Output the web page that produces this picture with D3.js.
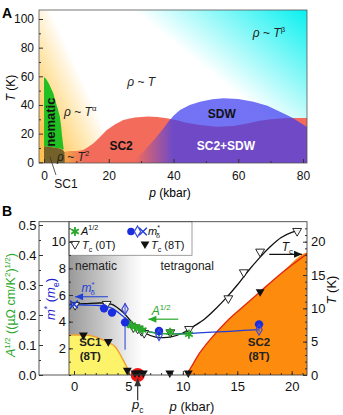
<!DOCTYPE html>
<html><head><meta charset="utf-8">
<script src="https://cdn.jsdelivr.net/npm/d3@7"></script>
<style>body{margin:0;background:#fff}svg{display:block}text{font-family:'Liberation Sans',Arial,Helvetica,sans-serif}</style>
</head><body><svg id="c" width="343" height="415"></svg>
<script>
// ---------------- Panel A data (p in kbar, T in K) ----------------
const aXTicks=[0,20,40,60,80];
const aYTicks=[0,20,40,60,80,100];
const nematicRegion=[[0,11],[0,59.5],[0.7,58],[1.5,55],[2.3,51],[2.9,48],[3.4,43.5],[4.3,37],[4.9,31.8],[5.3,25],[5.5,20],[5.8,14],[6.1,9],[4.5,9.8],[3,10.4],[1.5,10.8]];
const sc1RegionA=[[0,-0.7],[0,11],[1.5,10.8],[3,10.4],[4.5,9.8],[5.8,8.8],[6.3,7],[6.4,3],[6.4,-0.7]];
const sc2RegionA=[[6.3,-0.7],[6.3,7.4],[8,7.8],[10,7.9],[12.1,8.6],[13.5,10.5],[15.2,13.2],[17,17],[19.4,22.5],[22,26.6],[24.5,29.5],[28,31.3],[32.2,32],[35,31.6],[37.9,30.7],[41,29.3],[44,27.6],[48.2,26],[53.3,24.8],[58.5,25.3],[62,26.8],[66.7,29],[70,30],[74,30.7],[78,31],[81.3,31],[81.3,-0.7]];
const sdwRegion=[[27,-0.7],[31,8],[34.5,17],[37,24],[38.4,28.3],[40,32.5],[42,36.5],[45,40],[48.2,42.3],[52,44],[55.4,44.7],[60,44.1],[64.7,42.3],[69,39.5],[72.9,35.3],[75,33],[77,30.7],[79,27.8],[81.3,24.5],[81.3,-0.7]];
const cyanFrom=[60,47], cyanTo=[81.2,106.3];
const yellowFrom=[11.9,57.4], yellowTo=[-4.9,40];

// ---------------- Panel B data ----------------
const bXTicks=[0,5,10,15,20];
const bTTicks=[0,5,10,15,20];
const bMTicks=[2,4,6,8,10];
const bATicks=[0,0.1,0.2,0.3,0.4,0.5];
const tc0T=[[0.1,10.5],[3.0,10.65],[5.45,7.15],[5.85,6.95],[6.2,6.6],[6.45,6.3],[8.85,6.4],[10.57,6.9],[14.18,11.5],[15.6,15.4],[17.1,18.5],[20.5,21.6]];
const tc8T=[[0.86,6.0],[3.15,5.0],[4.9,0.7],[5.6,0.3],[5.97,0.3],[6.37,0.3],[8.8,0.3],[10.5,0.3],[17.1,12.5]];
const tcFit=[[-0.45,10.6],[1,10.7],[2.5,10.8],[3.5,10.6],[4.5,9.4],[5.5,7.6],[6.5,6.3],[7.5,5.7],[8.2,5.6],[9,5.75],[10,6.3],[11,7.3],[12,8.4],[13,9.9],[14,11.6],[15,13.5],[16,15.6],[17,17.5],[18,19.2],[19,20.6],[20,21.4],[20.7,21.7]];
const mCircles=[[2.76,5.0,0.3],[3.49,4.68,0.25],[4.69,3.95,2.05],[7.81,3.3,0.2],[17.0,3.8,0.2]];
const mDiamonds=[[4.69,4.95,0.45],[7.81,3.0,0.2],[17.0,3.4,0.15]];
const mCrosses=[[0.0,5.3]];
const mFit=[[-0.45,5.25],[1,5.25],[2.5,5.2],[3.5,5.0],[4.5,4.4],[5.5,3.75],[6.5,3.35],[7.5,3.15],[8.5,3.1],[10,3.1],[17,3.4]];
const aStars=[[4.93,0.172],[5.3,0.165],[5.6,0.16],[6.0,0.155],[6.3,0.15],[7.8,0.144],[8.82,0.143],[10.56,0.136]];
const aFit=[[4.85,0.172],[5.5,0.163],[6.2,0.152],[7,0.143],[8,0.139],[9,0.137],[10.6,0.136]];
const sc1RegionB=[[-0.6,6.0],[1,6.0],[2,5.7],[3,5.0],[3.8,4.2],[4.5,2.3],[4.9,1.0],[5.15,0]];
const sc2RegionB=[[10.3,0],[10.7,1.0],[11.5,3.2],[12.5,5.3],[14,8.0],[15.5,10.2],[17.1,12.5],[19,15.2],[21.6,18.4]];
const pcValue=5.85;

const svg=d3.select('#c');
const defs=svg.append('defs');
const FONT="'Liberation Sans',Arial,Helvetica,sans-serif";

function rich(sel,x,y,parts,fs,attrs){
  const t=sel.append('text').attr('x',x).attr('y',y).attr('font-size',fs);
  for(const k in (attrs||{})) t.attr(k,attrs[k]);
  let shift=0;
  parts.forEach(p=>{
    const ts=t.append('tspan').text(p.t);
    const target=p.sup?-fs*0.42:p.sub?fs*0.28:0;
    if(target!==shift){ts.attr('dy',target-shift);shift=target;}
    if(p.dx) ts.attr('dx',p.dx);
    if(p.sup||p.sub) ts.attr('font-size',fs*0.65);
    if(p.i) ts.attr('font-style','italic');
    if(p.b) ts.attr('font-weight','bold');
  });
  return t;
}
function styleAxis(g,fs){g.select('.domain').remove();g.selectAll('text').attr('font-size',fs).attr('font-family',FONT).attr('fill','#111');g.selectAll('line').attr('stroke','#333');}

// ================= PANEL A =================
const xA=d3.scaleLinear().domain([0,80]).range([44,303]);
const yA=d3.scaleLinear().domain([0,100]).range([162.3,19]);
const AL=39,AR=307,AT=10,AB=163;
defs.append('clipPath').attr('id','clipA').append('rect').attr('x',AL).attr('y',AT).attr('width',AR-AL).attr('height',AB-AT);
function lg(id,from,to,stops){const g=defs.append('linearGradient').attr('id',id).attr('gradientUnits','userSpaceOnUse')
  .attr('x1',from[0]).attr('y1',from[1]).attr('x2',to[0]).attr('y2',to[1]);
  stops.forEach(s=>g.append('stop').attr('offset',s[0]).attr('stop-color',s[1]).attr('stop-opacity',s[2]));}
lg('gCyan',[xA(cyanFrom[0]),yA(cyanFrom[1])],[xA(cyanTo[0]),yA(cyanTo[1])],[[0,'#08f0f0',0],[0.45,'#08f0f0',0.45],[1,'#08f0f0',1]]);
lg('gYel',[xA(yellowFrom[0]),yA(yellowFrom[1])],[xA(yellowTo[0]),yA(yellowTo[1])],[[0,'#ffc040',0],[0.4,'#ffc848',0.42],[1,'#ffb838',0.88]]);
lg('gSc2',[xA(7),0],[xA(12.5),0],[[0,'#f4a04a',1],[1,'#f26b5b',1]]);
lg('gSdw',[xA(28),0],[xA(40),0],[[0,'#3c3cf0',0],[1,'#3c3cf0',0.72]]);

const gA=svg.append('g').attr('clip-path','url(#clipA)');
gA.append('rect').attr('x',AL).attr('y',AT).attr('width',AR-AL).attr('height',AB-AT).attr('fill','#fff');
gA.append('rect').attr('x',AL).attr('y',AT).attr('width',AR-AL).attr('height',AB-AT).attr('fill','url(#gCyan)');
gA.append('rect').attr('x',AL).attr('y',AT).attr('width',AR-AL).attr('height',AB-AT).attr('fill','url(#gYel)');
const lineA=d3.line().x(d=>xA(d[0])).y(d=>yA(d[1]));
gA.append('path').attr('d',lineA(sc2RegionA)+'Z').attr('fill','url(#gSc2)');
gA.append('path').attr('d',lineA(sdwRegion)+'Z').attr('fill','url(#gSdw)');
gA.append('path').attr('d',lineA(nematicRegion)+'Z').attr('fill','#22c022');
gA.append('path').attr('d',lineA(sc1RegionA)+'Z').attr('fill','#74612a');

// frame A
svg.append('rect').attr('x',AL).attr('y',AT).attr('width',AR-AL).attr('height',AB-AT).attr('fill','none').attr('stroke','#555').attr('stroke-width',0.8);
const axAx=svg.append('g').attr('transform',`translate(0,${AB})`).call(d3.axisBottom(xA).tickValues(aXTicks).tickSize(-4).tickPadding(8));
styleAxis(axAx,12);
const axAxm=svg.append('g').attr('transform',`translate(0,${AB})`).call(d3.axisBottom(xA).tickValues(d3.range(10,81,20)).tickSize(-2).tickFormat(''));
styleAxis(axAxm,12);
const axAy=svg.append('g').attr('transform',`translate(${AL},0)`).call(d3.axisLeft(yA).tickValues(aYTicks).tickSize(-4).tickPadding(5));
styleAxis(axAy,12);
const axAym=svg.append('g').attr('transform',`translate(${AL},0)`).call(d3.axisLeft(yA).tickValues(d3.range(10,101,20)).tickSize(-2).tickFormat(''));
styleAxis(axAym,12);

// texts A
svg.append('text').attr('x',2).attr('y',18).attr('font-size',14).attr('font-weight','bold').text('A');
rich(svg,170,197,[{t:'p',i:true},{t:' (kbar)'}],12,{'text-anchor':'middle'});
rich(svg,0,0,[{t:'T',i:true},{t:' (K)'}],12,{'text-anchor':'middle',transform:'translate(15,88) rotate(-90)'});
rich(svg,xA(69.5),yA(87.6),[{t:'ρ',i:true},{t:' ~ '},{t:'T',i:true},{t:'β',sup:true}],12,{'text-anchor':'middle','fill':'#222'});
rich(svg,xA(30),yA(53.3),[{t:'ρ',i:true},{t:' ~ '},{t:'T',i:true}],12,{'text-anchor':'middle','fill':'#222'});
rich(svg,xA(11.2),yA(32.3),[{t:'ρ',i:true},{t:' ~ '},{t:'T',i:true},{t:'α',sup:true}],12,{'text-anchor':'middle','fill':'#222'});
rich(svg,xA(9),yA(1),[{t:'ρ',i:true},{t:' ~ '},{t:'T',i:true},{t:'2',sup:true}],12,{'text-anchor':'middle','fill':'#222'});
svg.append('text').attr('x',xA(54.9)).attr('y',yA(31)).attr('text-anchor','middle').attr('font-size',12).attr('font-weight','bold').attr('fill','#111').text('SDW');
svg.append('text').attr('x',xA(23.8)).attr('y',yA(8.6)).attr('text-anchor','middle').attr('font-size',12).attr('font-weight','bold').attr('fill','#111').text('SC2');
svg.append('text').attr('x',xA(56.2)).attr('y',yA(8.6)).attr('text-anchor','middle').attr('font-size',12).attr('font-weight','bold').attr('fill','#fff').text('SC2+SDW');
svg.append('text').attr('text-anchor','middle').attr('font-size',13).attr('font-weight','bold').attr('fill','#111')
  .attr('transform',`translate(${xA(3.4)},${yA(28)}) rotate(-90)`).text('nematic');
svg.append('line').attr('x1',xA(3.7)).attr('y1',AB+12).attr('x2',xA(1.8)).attr('y2',yA(4)).attr('stroke','#333').attr('stroke-width',0.8);
svg.append('text').attr('x',xA(6.8)).attr('y',188).attr('text-anchor','middle').attr('font-size',12).attr('fill','#111').text('SC1');

// ================= PANEL B =================
const xB=d3.scaleLinear().domain([0,20]).range([74,291.7]);
const yT=d3.scaleLinear().domain([0,20]).range([375,241.7]);
const yM=d3.scaleLinear().domain([0,10]).range([375,241.7]);
const yAB=d3.scaleLinear().domain([0,0.5]).range([375,225]);
const BL=39,BI=69,BR=307,BT=221.7,BB=375;
defs.append('clipPath').attr('id','clipB').append('rect').attr('x',BI).attr('y',BT).attr('width',BR-BI).attr('height',BB-BT);
lg('gGray',[xB(-0.46),0],[xB(6.3),0],[[0,'#999999',1],[0.45,'#c6c6c6',1],[0.8,'#eeeeee',1],[1,'#ffffff',1]]);
const gB=svg.append('g').attr('clip-path','url(#clipB)');
gB.append('rect').attr('x',BI).attr('y',BT).attr('width',BR-BI).attr('height',BB-BT).attr('fill','url(#gGray)');
const lTc=d3.line().x(d=>xB(d[0])).y(d=>yT(d[1])).curve(d3.curveMonotoneX);
// SC1 (8T)
gB.append('path').attr('d',lTc([[-0.6,0]].concat(sc1RegionB))+'Z').attr('fill','#fdf36b');
gB.append('path').attr('d',lTc(sc1RegionB)).attr('fill','none').attr('stroke','#f0a030').attr('stroke-width',1.4);
// SC2 (8T)
gB.append('path').attr('d',lTc(sc2RegionB.concat([[21.6,0]]))+'Z').attr('fill','#fd8b0d');
gB.append('path').attr('d',lTc(sc2RegionB)).attr('fill','none').attr('stroke','#e22a10').attr('stroke-width',1.4);
function regionLabel(px,l1,l2){
  gB.append('text').attr('x',xB(px)).attr('y',yT(4.3)).attr('text-anchor','middle').attr('font-size',11.5).attr('font-weight','bold').attr('fill','#222').text(l1);
  gB.append('text').attr('x',xB(px)).attr('y',yT(2.2)).attr('text-anchor','middle').attr('font-size',11.5).attr('font-weight','bold').attr('fill','#222').text(l2);
}
regionLabel(1.5,'SC1','(8T)');
regionLabel(17,'SC2','(8T)');
gB.append('text').attr('x',BI+6).attr('y',yT(15.7)).attr('font-size',12).attr('fill','#222').text('nematic');
gB.append('text').attr('x',xB(10.4)).attr('y',yT(15.7)).attr('text-anchor','middle').attr('font-size',12).attr('fill','#222').text('tetragonal');

// fit lines
const curve=d3.curveCatmullRom;
gB.append('path').attr('d',d3.line().x(d=>xB(d[0])).y(d=>yT(d[1])).curve(curve)(tcFit)).attr('fill','none').attr('stroke','#111').attr('stroke-width',1.3);
gB.append('path').attr('d',d3.line().x(d=>xB(d[0])).y(d=>yM(d[1])).curve(curve)(mFit)).attr('fill','none').attr('stroke','#1f3fd8').attr('stroke-width',1.3);
gB.append('path').attr('d',d3.line().x(d=>xB(d[0])).y(d=>yAB(d[1])).curve(curve)(aFit)).attr('fill','none').attr('stroke','#2ab02a').attr('stroke-width',1.3);

// error bars
svg.selectAll('.eb1').data(mCircles).join('line').attr('x1',d=>xB(d[0])).attr('x2',d=>xB(d[0])).attr('y1',d=>yM(d[1]-d[2])).attr('y2',d=>yM(d[1]+Math.min(d[2],0.4))).attr('stroke','#1f3fd8').attr('stroke-width',1);
svg.selectAll('.eb2').data(mDiamonds).join('line').attr('x1',d=>xB(d[0])).attr('x2',d=>xB(d[0])).attr('y1',d=>yM(d[1]-d[2])).attr('y2',d=>yM(d[1]+d[2])).attr('stroke','#3d4ad8').attr('stroke-width',1);

// pc marker
svg.append('circle').attr('cx',xB(pcValue)).attr('cy',yT(0)).attr('r',7).attr('fill','#ee1515');

// symbols
const tri=d3.symbol().type(d3.symbolTriangle).size(34);
svg.selectAll('.t0').data(tc0T).join('path').attr('d',tri).attr('transform',d=>`translate(${xB(d[0])},${yT(d[1])}) rotate(180)`).attr('fill','#fff').attr('fill-opacity',0.9).attr('stroke','#111').attr('stroke-width',0.9);
svg.selectAll('.t8').data(tc8T).join('path').attr('d',tri).attr('transform',d=>`translate(${xB(d[0])},${yT(d[1])}) rotate(180)`).attr('fill','#111');
const ast=d3.symbol().type(d3.symbolAsterisk).size(55);
svg.selectAll('.as').data(aStars).join('path').attr('d',ast).attr('transform',d=>`translate(${xB(d[0])},${yAB(d[1])})`).attr('fill','none').attr('stroke','#2aa82a').attr('stroke-width',1.8);
svg.selectAll('.asc').data(aStars).join('circle').attr('cx',d=>xB(d[0])).attr('cy',d=>yAB(d[1])).attr('r',2.2).attr('fill','#2aa82a');
svg.selectAll('.mc').data(mCircles).join('circle').attr('cx',d=>xB(d[0])).attr('cy',d=>yM(d[1])).attr('r',4.2).attr('fill','#1a2ee0');
const dia=d3.symbol().type(d3.symbolDiamond).size(34);
svg.selectAll('.md').data(mDiamonds).join('path').attr('d',dia).attr('transform',d=>`translate(${xB(d[0])},${yM(d[1])})`).attr('fill','none').attr('stroke','#3d4ad8').attr('stroke-width',1.2);
const xs=d3.symbol().type(d3.symbolX).size(40);
svg.selectAll('.mx').data(mCrosses).join('path').attr('d',xs).attr('transform',d=>`translate(${xB(d[0])},${yM(d[1])})`).attr('fill','none').attr('stroke','#1f3fd8').attr('stroke-width',1.6);

// arrows
function arrow(x1,y1,x2,y2,col){
  svg.append('line').attr('x1',x1).attr('y1',y1).attr('x2',x2).attr('y2',y2).attr('stroke',col).attr('stroke-width',1.2);
  const a=Math.atan2(y2-y1,x2-x1),L=8,W=3.5;
  const p=[[x2,y2],[x2-L*Math.cos(a)+W*Math.sin(a),y2-L*Math.sin(a)-W*Math.cos(a)],[x2-L*Math.cos(a)-W*Math.sin(a),y2-L*Math.sin(a)+W*Math.cos(a)]];
  svg.append('path').attr('d','M'+p.join('L')+'Z').attr('fill',col);
}
arrow(xB(3.12),yM(5.87),xB(0.1),yM(5.87),'#1f3fd8');
rich(svg,xB(1.3),yM(6.25),[{t:'m',i:true},{t:'*',sup:true},{t:'δ',sub:true,dx:-4}],12,{'text-anchor':'middle','fill':'#1f3fd8'});
arrow(xB(9.58),yAB(0.186),xB(6.83),yAB(0.186),'#2aa82a');
rich(svg,xB(8.0),yAB(0.2),[{t:'A',i:true},{t:'1/2',sup:true}],12,{'text-anchor':'middle','fill':'#2aa82a'});
arrow(xB(17.94),yT(18.1),xB(20.95),yT(18.1),'#111');
rich(svg,xB(19.6),yT(18.6),[{t:'T',i:true},{t:'c',sub:true}],12,{'text-anchor':'middle','fill':'#111'});
arrow(xB(pcValue),yT(-3.8),xB(pcValue),yT(-0.5),'#333');
rich(svg,xB(pcValue),409,[{t:'p',i:true},{t:'c',sub:true}],13,{'text-anchor':'middle','fill':'#111'});

// legend
svg.append('rect').attr('x',BI).attr('y',BT).attr('width',123).attr('height',33.6).attr('fill','#fff').attr('stroke','#888').attr('stroke-width',0.8);
svg.append('path').attr('d',ast).attr('transform','translate(75,231.5)').attr('fill','none').attr('stroke','#2aa82a').attr('stroke-width',1.8);
svg.append('circle').attr('cx',75).attr('cy',231.5).attr('r',2.2).attr('fill','#2aa82a');
rich(svg,81,235,[{t:'A',i:true},{t:'1/2',sup:true}],11,{'fill':'#111'});
svg.append('circle').attr('cx',131).attr('cy',231.5).attr('r',3.8).attr('fill','#1a2ee0');
svg.append('path').attr('d',dia).attr('transform','translate(137.5,231.5)').attr('fill','none').attr('stroke','#3d4ad8').attr('stroke-width',1.2);
svg.append('path').attr('d',xs).attr('transform','translate(143,231.5)').attr('fill','none').attr('stroke','#1f3fd8').attr('stroke-width',1.4);
rich(svg,148,235,[{t:'m',i:true},{t:'*',sup:true},{t:'δ',sub:true,dx:-4}],11,{'fill':'#111'});
svg.append('path').attr('d',tri).attr('transform','translate(75,244) rotate(180)').attr('fill','#fff').attr('stroke','#111').attr('stroke-width',0.9);
rich(svg,82,248.5,[{t:'T',i:true},{t:'c',sub:true},{t:' (0T)'}],11,{'fill':'#111'});
svg.append('path').attr('d',tri).attr('transform','translate(145,244) rotate(180)').attr('fill','#111');
rich(svg,151,248.5,[{t:'T',i:true},{t:'c',sub:true},{t:' (8T)'}],11,{'fill':'#111'});

// frame B and axes
svg.append('rect').attr('x',BL).attr('y',BT).attr('width',BR-BL).attr('height',BB-BT).attr('fill','none').attr('stroke','#444').attr('stroke-width',0.9);
svg.append('line').attr('x1',BI).attr('x2',BI).attr('y1',BT).attr('y2',BB).attr('stroke','#444').attr('stroke-width',0.9);
let g;
g=svg.append('g').attr('transform',`translate(0,${BB})`).call(d3.axisBottom(xB).tickValues(bXTicks).tickSize(-4).tickPadding(7));styleAxis(g,13);
g=svg.append('g').attr('transform',`translate(0,${BB})`).call(d3.axisBottom(xB).tickValues(d3.range(0,22,1)).tickSize(-2).tickFormat(''));styleAxis(g,13);
g=svg.append('g').attr('transform',`translate(${BR},0)`).call(d3.axisRight(yT).tickValues(bTTicks).tickSize(-4).tickPadding(4));styleAxis(g,13);g.selectAll('text').attr('text-anchor','start');
g=svg.append('g').attr('transform',`translate(${BR},0)`).call(d3.axisRight(yT).tickValues(d3.range(0,23,1)).tickSize(-2).tickFormat(''));styleAxis(g,13);
g=svg.append('g').attr('transform',`translate(${BI},0)`).call(d3.axisLeft(yM).tickValues(bMTicks).tickSize(-4).tickPadding(3));styleAxis(g,13);
g=svg.append('g').attr('transform',`translate(${BI},0)`).call(d3.axisLeft(yM).tickValues(d3.range(0,12,1)).tickSize(-2).tickFormat(''));styleAxis(g,13);
g=svg.append('g').attr('transform',`translate(${BL},0)`).call(d3.axisLeft(yAB).tickValues(bATicks).tickSize(-4).tickPadding(2.5).tickFormat(d3.format('.1f')));styleAxis(g,13);
g=svg.append('g').attr('transform',`translate(${BL},0)`).call(d3.axisLeft(yAB).tickValues(d3.range(0,0.51,0.05)).tickSize(-2).tickFormat(''));styleAxis(g,13);

svg.append('text').attr('x',2).attr('y',216).attr('font-size',14).attr('font-weight','bold').text('B');
rich(svg,192,411,[{t:'p',i:true},{t:' (kbar)'}],13,{'text-anchor':'middle','fill':'#111'});
rich(svg,0,0,[{t:'T',i:true},{t:' (K)'}],13,{'text-anchor':'middle','fill':'#111',transform:'translate(336,290) rotate(-90)'});
rich(svg,0,0,[{t:'A',i:true},{t:'1/2',sup:true},{t:' ((µΩ cm/K'},{t:'2',sup:true},{t:')'},{t:'1/2',sup:true},{t:')'}],12.5,{'text-anchor':'middle','fill':'#2aa82a',transform:'translate(15,305) rotate(-90)'});
rich(svg,0,0,[{t:'m',i:true},{t:'*',sup:true},{t:' ('},{t:'m',i:true},{t:'e',sub:true},{t:')'}],13,{'text-anchor':'middle','fill':'#2222cc',transform:'translate(55,299) rotate(-90)'});
</script></body></html>
